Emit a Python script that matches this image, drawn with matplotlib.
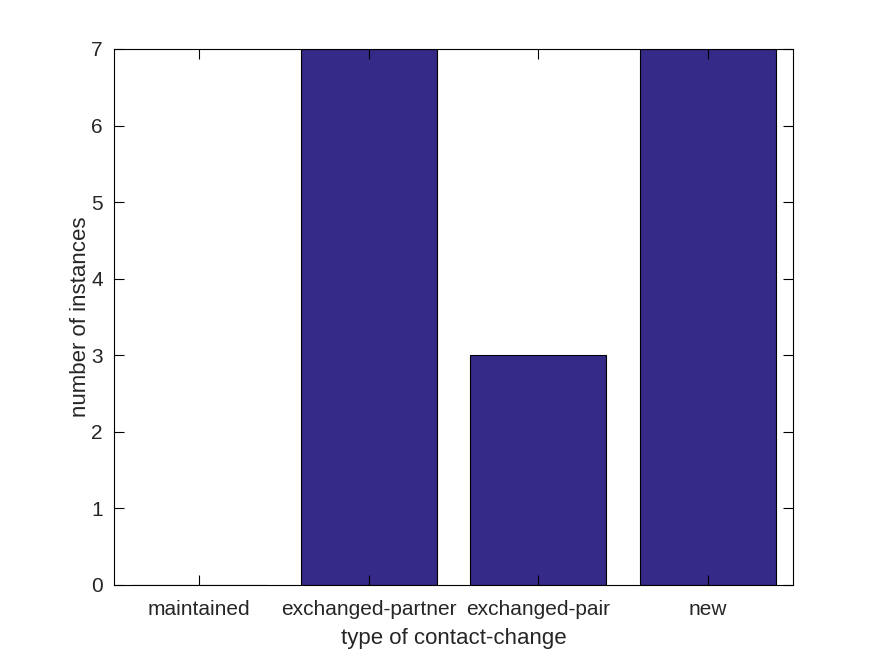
import matplotlib
matplotlib.use("Agg")
import matplotlib.pyplot as plt
import numpy as np

categories = ["maintained", "exchanged-partner", "exchanged-pair", "new"]
counts = [0, 7, 3, 7]
yticks = [0, 1, 2, 3, 4, 5, 6, 7]

plt.rcParams['font.family'] = ['Liberation Sans', 'DejaVu Sans']
txt = '#262626'

fig = plt.figure(figsize=(8.75, 6.56), dpi=100)
ax = fig.add_axes([114/875, 71/656, 679/875, 536/656])
x = np.arange(1, len(categories) + 1)
ax.bar(x, counts, width=0.8, color='#352A87', edgecolor='black', linewidth=0.8)
ax.set_xlim(0.5, len(categories) + 0.5)
ax.set_ylim(0, 7)
ax.set_xticks(x)
ax.set_xticklabels(categories)
ax.set_yticks(yticks)
ax.tick_params(direction='in', length=7, width=0.8, top=True, right=True,
               labelsize=15, colors='black', labelcolor=txt)
ax.tick_params(axis='x', pad=11)
ax.tick_params(axis='y', pad=8)
for s in ax.spines.values():
    s.set_linewidth(0.8)
    s.set_color('black')
ax.set_xlabel('type of contact-change', fontsize=16, color=txt, labelpad=6)
ax.set_ylabel('number of instances', fontsize=16, color=txt, labelpad=0)
fig.savefig('out.png', dpi=100)
